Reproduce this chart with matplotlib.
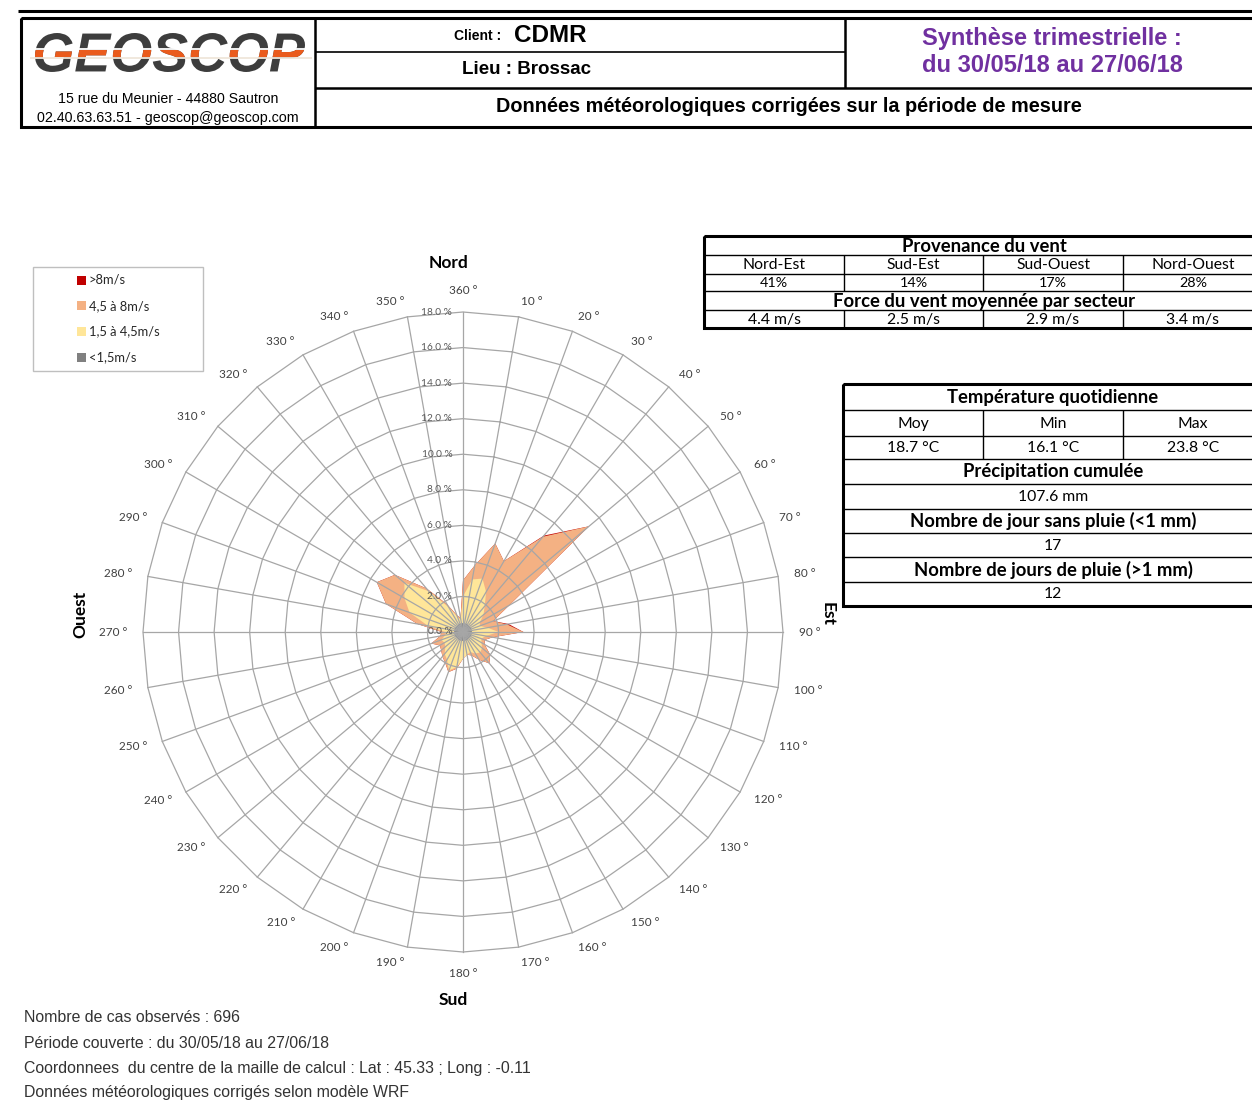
import matplotlib
matplotlib.use("Agg")
import matplotlib.pyplot as plt
from matplotlib.patches import Rectangle, PathPatch
from matplotlib.textpath import TextPath
from matplotlib.font_manager import FontProperties
from matplotlib.transforms import Affine2D
import numpy as np

# ---- données de la rose des vents (% par secteur de 10°) ----
directions = np.arange(10, 361, 10)
# fréquences par classe de vitesse (non cumulées)
calme = np.array([0.5] * 36)  # <1,5 m/s
faible = np.array([2.5, 2.7, 2.1, 1.4, 1.0, 0.6, 0.5, 0.9, 1.5, 0.8,
                   0.6, 0.7, 0.9, 1.0, 0.9, 0.7, 0.8, 1.0, 1.5, 1.8,
                   1.3, 1.1, 0.8, 0.7, 0.8, 0.5, 0.5, 1.5, 2.7, 3.3,
                   3.8, 2.5, 1.1, 0.4, 0.2, 1.5])  # 1,5 à 4,5 m/s
moyen = np.array([0.8, 2.1, 2.0, 5.1, 7.75, 1.9, 0.8, 1.1, 1.4, 0.4,
                  0.2, 0.2, 0.6, 0.8, 0.4, 0.2, 0.0, 0.0, 0.1, 0.1,
                  0.2, 0.2, 0.3, 0.3, 0.6, 0.3, 0.2, 0.6, 1.4, 1.8,
                  0.7, 0.2, 0.2, 0.1, 0.1, 0.9])  # 4,5 à 8 m/s
fort = np.array([0.0, 0.0, 0.0, 0.08, 0.0, 0.0, 0.0, 0.1, 0.0, 0.0,
                 0.0, 0.0, 0.0, 0.0, 0.0, 0.0, 0.0, 0.0, 0.0, 0.0,
                 0.0, 0.0, 0.0, 0.0, 0.0, 0.0, 0.0, 0.0, 0.0, 0.0,
                 0.0, 0.0, 0.0, 0.0, 0.0, 0.0])  # >8 m/s

classes = [">8m/s", "4,5 à 8m/s", "1,5 à 4,5m/s", "<1,5m/s"]
couleurs = ["#C00000", "#F4B183", "#FFE699", "#808080"]
rmax = 18.0
anneaux = np.arange(0, 18.1, 2)

# ---- tableaux ----
secteurs = ["Nord-Est", "Sud-Est", "Sud-Ouest", "Nord-Ouest"]
provenance = ["41%", "14%", "17%", "28%"]
force = ["4.4 m/s", "2.5 m/s", "2.9 m/s", "3.4 m/s"]
temp_noms = ["Moy", "Min", "Max"]
temp_vals = ["18.7 °C", "16.1 °C", "23.8 °C"]
precip = "107.6 mm"
jours_sec = "17"
jours_pluie = "12"

pied = ["Nombre de cas observés : 696",
        "Période couverte : du 30/05/18 au 27/06/18",
        "Coordonnees  du centre de la maille de calcul : Lat : 45.33 ; Long : -0.11",
        "Données météorologiques corrigés selon modèle WRF"]

W, H = 1252, 1102
fig = plt.figure(figsize=(W / 100, H / 100), dpi=100)
fig.patch.set_facecolor("white")

# axe "page" en pixels
ax0 = fig.add_axes([0, 0, 1, 1])
ax0.set_xlim(0, W)
ax0.set_ylim(H, 0)
ax0.axis("off")

ARIAL = ["Liberation Sans", "DejaVu Sans"]
CALIBRI = ["Lato", "DejaVu Sans"]


def ligne(x1, y1, x2, y2, lw=1.0, c="black"):
    ax0.plot([x1, x2], [y1, y2], color=c, lw=lw, solid_capstyle="butt")


def cadre(x1, y1, x2, y2, lw=2.2):
    ax0.add_patch(Rectangle((x1, y1), x2 - x1, y2 - y1, fill=False,
                            ec="black", lw=lw))


# ---- en-tête ----
ligne(18, 11, W, 11, lw=2.2)
cadre(21, 18, W + 5, 127)
ligne(315, 18, 315, 127, lw=1.8)
ligne(845, 18, 845, 88, lw=1.8)
ligne(315, 52, 845, 52, lw=1.2)
ligne(315, 88, W, 88, lw=1.8)

# logo (texte vectorisé, bande orange)
tp = TextPath((0, 0), "GEOSCOP", size=50,
              prop=FontProperties(family="Liberation Sans", weight="bold", style="italic"))
bb = tp.get_extents()
tr = Affine2D().translate(-bb.x0, -bb.y0).scale(270 / bb.width, -39 / bb.height).translate(35, 72)
logo = tr.transform_path(tp)
ax0.add_patch(PathPatch(logo, fc="#3d3d3d", ec="none"))
orange = PathPatch(logo, fc="#EA5B1C", ec="none")
ax0.add_patch(orange)
orange.set_clip_path(Rectangle((30, 49.5), 280, 7.5, transform=ax0.transData))
ligne(30, 49, 312, 49, lw=1.3, c="white")
ligne(30, 57.7, 312, 57.7, lw=1.3, c="#efe6da")

ax0.text(168, 99, "15 rue du Meunier - 44880 Sautron", fontsize=10.2,
         family=ARIAL, ha="center", va="center")
ax0.text(168, 118, "02.40.63.63.51 - geoscop@geoscop.com", fontsize=10.3,
         family=ARIAL, ha="center", va="center")

ax0.text(505, 36, "Client : ", fontsize=10, fontweight="bold", family=ARIAL,
         ha="right", va="center")
ax0.text(514, 35, "CDMR", fontsize=17.5, fontweight="bold", family=ARIAL,
         ha="left", va="center")
ax0.text(527, 69, "Lieu : Brossac", fontsize=13.5, fontweight="bold", family=ARIAL,
         ha="center", va="center")
ax0.text(1052, 38, "Synthèse trimestrielle :", fontsize=17, fontweight="bold",
         family=ARIAL, color="#7030A0", ha="center", va="center")
ax0.text(1052, 66, "du 30/05/18 au 27/06/18", fontsize=17, fontweight="bold",
         family=ARIAL, color="#7030A0", ha="center", va="center")
ax0.text(789, 107, "Données météorologiques corrigées sur la période de mesure",
         fontsize=14.3, fontweight="bold", family=ARIAL, ha="center", va="center")

# ---- tableau provenance ----
xd = 1263
x1 = [704, 844, 983, 1123, xd]
cadre(704, 236, W + 5, 328)
for y in [255, 274, 291, 310]:
    ligne(704, y, W, y, lw=1.0)
for x in x1[1:4]:
    ligne(x, 255, x, 291, lw=1.0)
    ligne(x, 310, x, 328, lw=1.0)
fb = 13.3
fs = 11.3
ax0.text(984, 246, "Provenance du vent", fontsize=fb, fontweight="bold",
         family=CALIBRI, ha="center", va="center")
ax0.text(984, 301, "Force du vent moyennée par secteur", fontsize=fb,
         fontweight="bold", family=CALIBRI, ha="center", va="center")
for i in range(4):
    cx = (x1[i] + x1[i + 1]) / 2
    ax0.text(cx, 265, secteurs[i], fontsize=fs, family=CALIBRI,
             ha="center", va="center")
    ax0.text(cx, 283, provenance[i], fontsize=fs - 1, family=CALIBRI,
             ha="center", va="center")
    ax0.text(cx, 320, force[i], fontsize=fs, family=CALIBRI,
             ha="center", va="center")

# ---- tableau température ----
x2 = [843, 983, 1123, xd]
cadre(843, 384, W + 5, 606)
for y in [410, 436, 459, 484, 509, 533, 557, 582]:
    ligne(843, y, W, y, lw=1.0)
for x in x2[1:3]:
    ligne(x, 410, x, 459, lw=1.0)
xc = (843 + xd) / 2
ax0.text(xc, 397, "Température quotidienne", fontsize=fb, fontweight="bold",
         family=CALIBRI, ha="center", va="center")
for i in range(3):
    cx = (x2[i] + x2[i + 1]) / 2
    ax0.text(cx, 424, temp_noms[i], fontsize=fs, family=CALIBRI,
             ha="center", va="center")
    ax0.text(cx, 448, temp_vals[i], fontsize=fs, family=CALIBRI,
             ha="center", va="center")
ax0.text(xc, 472, "Précipitation cumulée", fontsize=fb, fontweight="bold",
         family=CALIBRI, ha="center", va="center")
ax0.text(xc, 497, precip, fontsize=fs, family=CALIBRI, ha="center", va="center")
ax0.text(xc, 521, "Nombre de jour sans pluie (<1 mm)", fontsize=fb, fontweight="bold",
         family=CALIBRI, ha="center", va="center")
ax0.text(xc, 546, jours_sec, fontsize=fs, family=CALIBRI, ha="center", va="center")
ax0.text(xc, 570, "Nombre de jours de pluie (>1 mm)", fontsize=fb, fontweight="bold",
         family=CALIBRI, ha="center", va="center")
ax0.text(xc, 594, jours_pluie, fontsize=fs, family=CALIBRI, ha="center", va="center")

# ---- légende ----
ax0.add_patch(Rectangle((33, 267), 170, 104, fill=False, ec="#BFBFBF", lw=1.0))
for i, (lab, c) in enumerate(zip(classes, couleurs)):
    y = 280 + i * 25.7
    ax0.add_patch(Rectangle((77, y - 4.5), 9, 9, fc=c, ec="none"))
    ax0.text(89, y, lab, fontsize=9.3, family=CALIBRI, ha="left", va="center",
             color="#262626")

# ---- pied de page ----
for i, t in enumerate(pied):
    ax0.text(24, 1018 + i * 25, t, fontsize=11.4, family=ARIAL, color="#333333",
             ha="left", va="center")

# ---- rose des vents (radar rempli) ----
cx0, cy0, rpx = 463, 632, 320
R = rmax * 380 / rpx
ax = fig.add_axes([(cx0 - 380) / W, (H - cy0 - 380) / H, 760 / W, 760 / H])
ax.set_xlim(-R, R)
ax.set_ylim(-R, R)
ax.set_aspect("equal")
ax.axis("off")

theta = np.deg2rad(directions)
cumul = [calme + faible + moyen + fort, calme + faible + moyen, calme + faible, calme]
for vals, c in zip(cumul, couleurs):
    xs = vals * np.sin(theta)
    ys = vals * np.cos(theta)
    ax.fill(np.append(xs, xs[0]), np.append(ys, ys[0]), color=c, lw=0, zorder=2)

gc = "#A6A6A6"
for r in anneaux[1:]:
    xs = r * np.sin(np.append(theta, theta[0]))
    ys = r * np.cos(np.append(theta, theta[0]))
    ax.plot(xs, ys, color=gc, lw=0.9, zorder=4)
for t in theta:
    ax.plot([0, rmax * np.sin(t)], [0, rmax * np.cos(t)], color=gc, lw=0.9, zorder=4)

for r in anneaux:
    ax.text(-0.6, r, "%.1f %%" % r, fontsize=7.3, color="#595959", ha="right",
            va="center", family=CALIBRI, zorder=6)

rl = rmax * 336 / rpx
for d, t in zip(directions, theta):
    s, c = np.sin(t), np.cos(t)
    ha = "left" if s > 0.01 else ("right" if s < -0.01 else "center")
    va = "center"
    if abs(s) < 0.01:
        va = "bottom" if c > 0 else "top"
    ax.text(rl * s, rl * c, "%d °" % d, fontsize=8.5,
            color="#404040", ha=ha, va=va, family=CALIBRI)

ax0.text(449, 263, "Nord", fontsize=12.5, fontweight="bold", family=CALIBRI,
         ha="center", va="center")
ax0.text(453, 1000, "Sud", fontsize=12.5, fontweight="bold", family=CALIBRI,
         ha="center", va="center")
ax0.text(80, 614, "Ouest", fontsize=12.5, fontweight="bold", family=CALIBRI,
         ha="center", va="center", rotation=90)
ax0.text(828, 614, "Est", fontsize=12.5, fontweight="bold", family=CALIBRI,
         ha="center", va="center", rotation=270)

fig.savefig("out.png", dpi=100)
